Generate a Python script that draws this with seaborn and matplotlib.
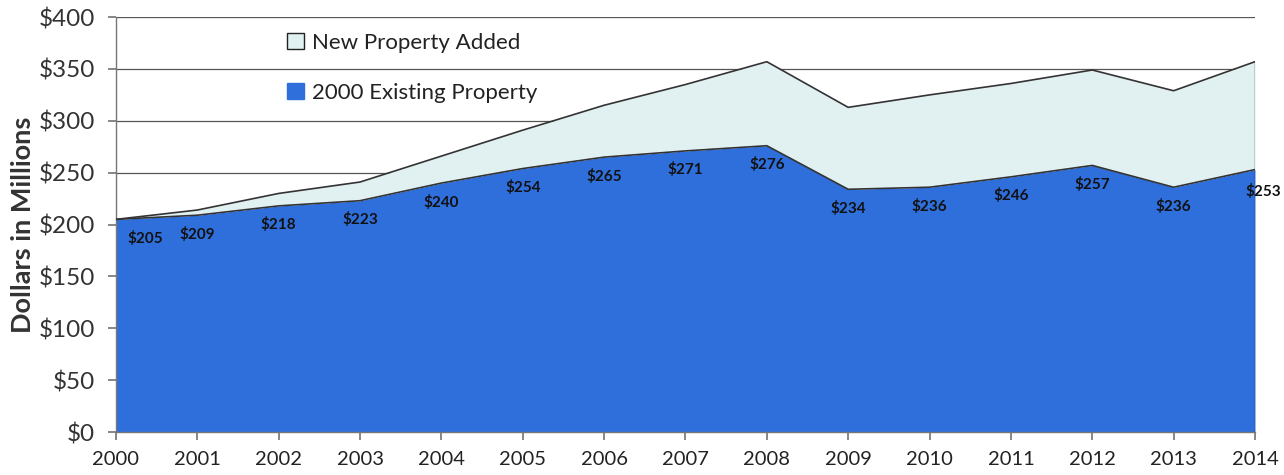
import matplotlib
matplotlib.use("Agg")
import matplotlib.pyplot as plt
import seaborn as sns
import pandas as pd
from matplotlib.patches import Patch

years = [2000, 2001, 2002, 2003, 2004, 2005, 2006, 2007, 2008, 2009, 2010, 2011, 2012, 2013, 2014]
existing = [205, 209, 218, 223, 240, 254, 265, 271, 276, 234, 236, 246, 257, 236, 253]
total = [205, 214, 230, 241, 266, 291, 315, 335, 357, 313, 325, 336, 349, 329, 357]
yticks = [0, 50, 100, 150, 200, 250, 300, 350, 400]
series_names = ["New Property Added", "2000 Existing Property"]

df = pd.DataFrame({"year": years, "existing": existing, "total": total})

sns.set_theme(style="white")
plt.rcParams["font.family"] = ["Lato", "DejaVu Sans"]

blue = "#2f6fdc"
light = "#e1f0f0"
edge = "#333333"

fig = plt.figure(figsize=(12.84, 4.75), dpi=100)
ax = fig.add_axes([0.0903, 0.0905, 0.8871, 0.8735])

ax.fill_between(df["year"], 0, df["existing"], color=blue, lw=0, zorder=2)
ax.fill_between(df["year"], df["existing"], df["total"], color=light, lw=0, zorder=2)
sns.lineplot(data=df, x="year", y="existing", ax=ax, color=edge, lw=1.2, zorder=3)
sns.lineplot(data=df, x="year", y="total", ax=ax, color=edge, lw=1.2, zorder=3)
ax.plot([years[-1], years[-1]], [0, total[-1]], color=edge, lw=1.0, zorder=3)

for i, (yr, v) in enumerate(zip(years, existing)):
    ha = "left" if i == 0 else "center"
    dx = 12 if i == 0 else 0
    dy = -19
    if i == len(years) - 1:
        dx = 8
        dy = -22
    ax.annotate(f"${v}", (yr, v), xytext=(dx, dy), textcoords="offset pixels",
                ha=ha, va="center", fontsize=11, fontweight="bold", color="#111111", zorder=4)

ax.set_xlim(years[0], years[-1])
ax.set_ylim(0, 400)
ax.set_yticks(yticks)
ax.set_yticklabels([f"${t}" for t in yticks], fontsize=17.5, color="#333333")
ax.set_xticks(years)
ax.set_xticklabels([str(y) for y in years], fontsize=14.5, color="#222222")
ax.yaxis.grid(True, color="#555555", lw=0.9, zorder=1)
ax.set_axisbelow(True)
for s in ["top", "right"]:
    ax.spines[s].set_visible(False)
for s in ["left", "bottom"]:
    ax.spines[s].set_color("#777777")
    ax.spines[s].set_linewidth(1.0)
ax.tick_params(axis="both", which="major", length=6, color="#777777", direction="out",
               bottom=True, left=True)
ax.tick_params(axis="y", pad=9)
ax.tick_params(axis="x", pad=8)
ax.set_xlabel("")
ax.set_ylabel("Dollars in Millions", fontsize=19.5, fontweight="bold", color="#333333", va="center")
ax.yaxis.set_label_coords(-0.0815, 0.5)

handles = [Patch(facecolor=light, edgecolor="#222222", lw=1.0),
           Patch(facecolor=blue, edgecolor=blue)]
leg = ax.legend(handles, series_names, loc="upper left", bbox_to_anchor=(0.133, 1.01),
                frameon=False, fontsize=16, labelspacing=1.35, handlelength=0.75,
                handleheight=0.75, handletextpad=0.35)
for t in leg.get_texts():
    t.set_color("#222222")

fig.savefig("out.png", dpi=100)
